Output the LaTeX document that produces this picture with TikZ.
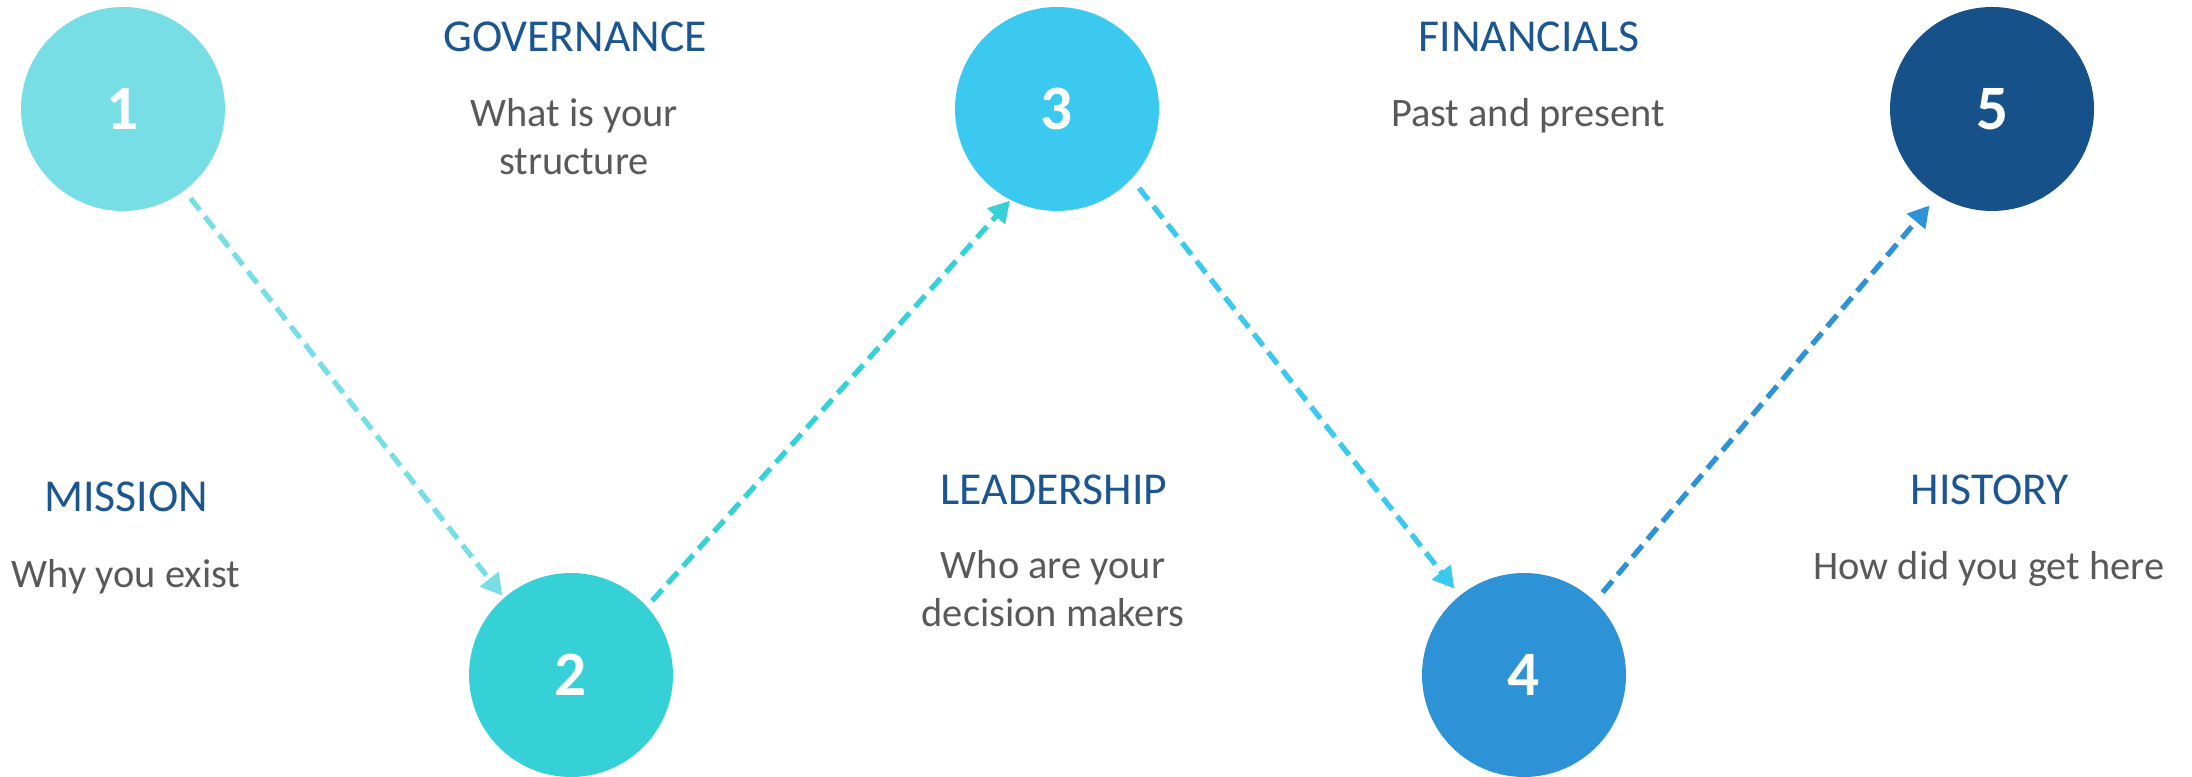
\documentclass[tikz,border=0pt]{standalone}
\usepackage{fontspec}
\setmainfont{Carlito}
\usepackage{xcolor}
\usetikzlibrary{arrows.meta}
\definecolor{stepone}{HTML}{78DEE5}
\definecolor{steptwo}{HTML}{36D1D7}
\definecolor{stepthree}{HTML}{3BC9EF}
\definecolor{stepfour}{HTML}{2E92D6}
\definecolor{stepfive}{HTML}{165289}
\definecolor{headblue}{HTML}{1B5691}
\definecolor{bodygray}{HTML}{595959}

\begin{document}
\begin{tikzpicture}[
   num/.style={circle,minimum size=2.04cm,inner sep=0pt,outer sep=0pt,text=white,font=\fontsize{18}{18}\selectfont\bfseries},
   head/.style={anchor=base,text=headblue,font=\fontsize{13}{15}\selectfont},
   body/.style={anchor=base,align=center,text=bodygray,font=\fontsize{11.5}{13.7}\selectfont},
   link/.style={line width=1.5pt,dash pattern=on 4.3pt off 2.3pt,-{Triangle[length=6pt,width=6.5pt]}}
]
   \useasboundingbox (0,0) rectangle (21.92,7.77);

   % steps
   \node[num,fill=stepone] (c1) at (1.23,6.68) {1};
   \node[num,fill=steptwo] (c2) at (5.71,1.02) {2};
   \node[num,fill=stepthree] (c3) at (10.57,6.68) {3};
   \node[num,fill=stepfour] (c4) at (15.24,1.02) {4};
   \node[num,fill=stepfive] (c5) at (19.92,6.68) {5};

   % dashed links
   \draw[link,stepone,shorten <=0.1cm,shorten >=0.03cm] (c1.307) -- (c2.131);
   \draw[link,steptwo,shorten <=0.08cm,shorten >=0.01cm] (c2.42) -- (c3.243);
   \draw[link,stepthree,shorten <=0.12cm,shorten >=0.09cm] (c3.317) -- (c4.129);
   \draw[link,stepfour,shorten <=0.12cm,shorten >=0.13cm] (c4.46) -- (c5.238);

   % labels (two-line texts sit on their last line)
   \node[head] (mission) at (1.26,2.65) {MISSION};
   \node[body] (missiontxt) at (1.26,1.89) {Why you exist};
   \node[head] (gov) at (5.75,7.25) {GOVERNANCE};
   \node[body] (govtxt) at (5.74,6.02) {What is your\\structure};
   \node[head] (lead) at (10.54,2.72) {LEADERSHIP};
   \node[body] (leadtxt) at (10.53,1.50) {Who are your\\decision makers};
   \node[head] (fin) at (15.29,7.25) {FINANCIALS};
   \node[body] (fintxt) at (15.28,6.50) {Past and present};
   \node[head] (hist) at (19.90,2.72) {HISTORY};
   \node[body] (histtxt) at (19.89,1.97) {How did you get here};
\end{tikzpicture}
\end{document}
